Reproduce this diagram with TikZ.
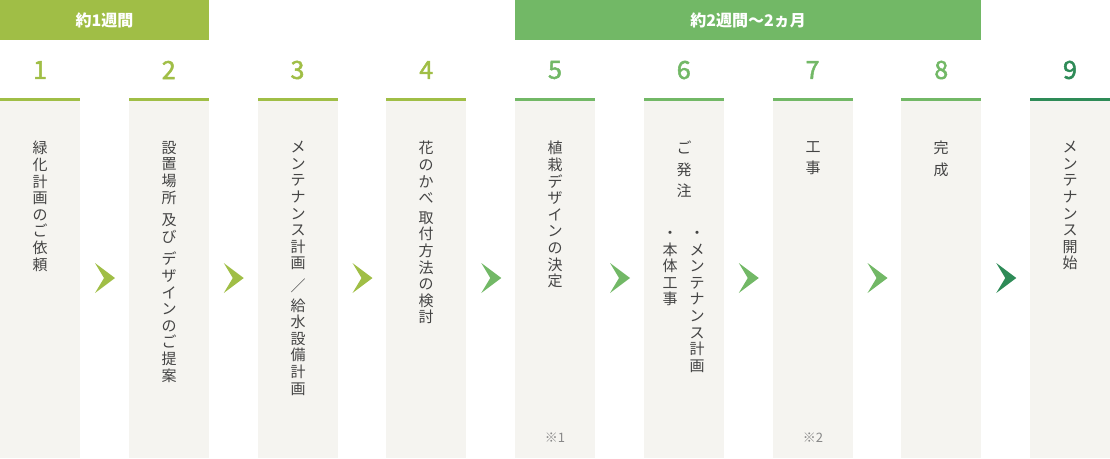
\documentclass[tikz,border=0pt]{standalone}
\usepackage{fontspec}
\setmainfont{Noto Sans CJK JP}
\newfontfamily\numfont[FakeBold=2]{Noto Sans CJK JP}
\usetikzlibrary{positioning}

\definecolor{stepA}{HTML}{A0BE46}
\definecolor{stepB}{HTML}{72B866}
\definecolor{stepC}{HTML}{2E8B57}
\definecolor{boxgray}{HTML}{F5F4F0}
\definecolor{txtgray}{HTML}{444444}
\definecolor{notegray}{HTML}{888888}

\tikzset{
  stepnum/.style={font=\numfont\fontsize{25}{25}\selectfont, inner sep=0pt},
  vtext/.style={font=\fontsize{15}{16.6}\selectfont, text=txtgray, align=center, anchor=north, inner sep=0pt},
  vwide/.style={vtext, font=\fontsize{15}{21.5}\selectfont},
  band/.style={font=\bfseries\fontsize{16}{16}\selectfont, text=white, inner sep=0pt},
  note/.style={font=\fontsize{13}{13}\selectfont, text=notegray, inner sep=0pt}
}

\begin{document}
\begin{tikzpicture}[x=1pt,y=-1pt]
\useasboundingbox (0,0) rectangle (1110,458);
% period bands
\fill[stepA] (0,0) rectangle (209,40);
\fill[stepB] (515,0) rectangle (981,40);
\node[band] (band1) at (104.5,20) {約1週間};
\node[band] (band2) at (748,20) {約2週間～2ヵ月};

% columns
\foreach \i/\c in {1/stepA,2/stepA,3/stepA,4/stepA,5/stepB,6/stepB,7/stepB,8/stepB,9/stepC} {
  \pgfmathsetmacro\xl{(\i-1)*128.75}
  \fill[boxgray] (\xl,101) rectangle ++(80,357);
  \fill[\c] (\xl,98) rectangle ++(80,3);
  \node[stepnum, text=\c] (num\i) at (\xl+40,70) {\i};
}

% chevrons
\foreach \i/\c in {1/stepA,2/stepA,3/stepA,4/stepB,5/stepB,6/stepB,7/stepB,8/stepC} {
  \pgfmathsetmacro\xa{(\i-1)*128.75+95}
  \fill[\c] (\xa,263) -- ++(20,15) -- ++(-20,15) -- ++(9,-15) -- cycle;
}

% texts
\node[vtext] (t1) at (40,141) {緑\\化\\計\\画\\の\\ご\\依\\頼};
\node[vtext] (t2) at (169,141) {設\\置\\場\\所\\[6pt]及\\び\\[6pt]デ\\ザ\\イ\\ン\\の\\ご\\提\\案};
\node[vtext] (t3) at (298,141) {メ\\ン\\テ\\ナ\\ン\\ス\\計\\画\\[6pt]／\\[3pt]給\\水\\設\\備\\計\\画};
\node[vtext] (t4) at (426,141) {花\\の\\か\\べ\\[3pt]取\\付\\方\\法\\の\\検\\討};
\node[vtext] (t5) at (555,141) {植\\栽\\デ\\ザ\\イ\\ン\\の\\決\\定};
\node[vwide] (t6) at (684,141) {ご\\発\\注};
\node[vtext] (t6b) at (697,231) {・\\メ\\ン\\テ\\ナ\\ン\\ス\\計\\画};
\node[vtext] (t6a) at (670,231) {・\\本\\体\\工\\事};
\node[vwide] (t7) at (813,141) {工\\事};
\node[vwide] (t8) at (941,141) {完\\成};
\node[vtext] (t9) at (1070,141) {メ\\ン\\テ\\ナ\\ン\\ス\\開\\始};

% notes
\node[note] (n5) at (555,438) {※1};
\node[note] (n7) at (813,438) {※2};
\end{tikzpicture}
\end{document}
